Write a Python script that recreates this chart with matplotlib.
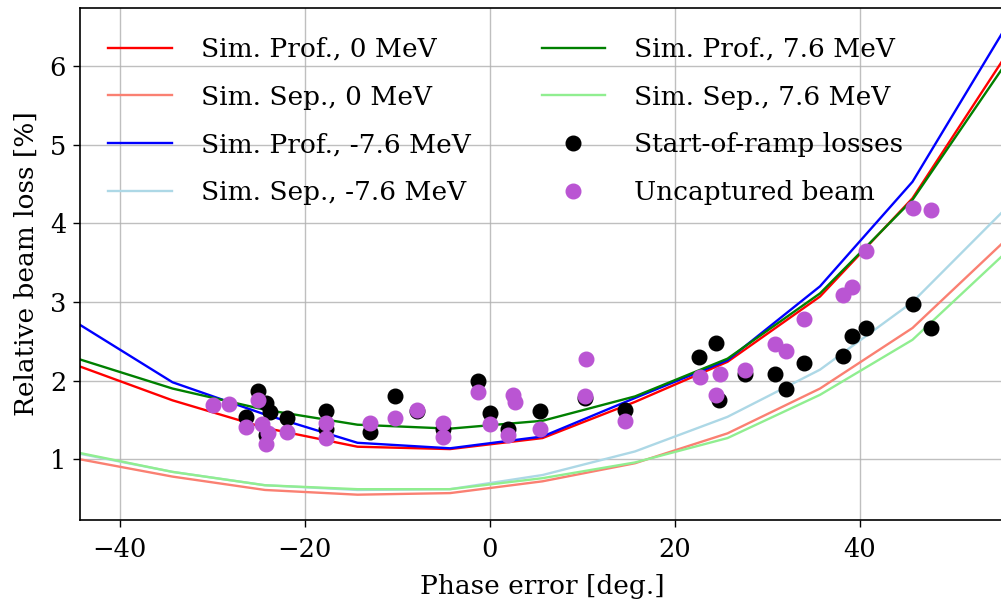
import matplotlib
matplotlib.use("Agg")
import matplotlib.pyplot as plt

plt.rcParams['font.family'] = ['DejaVu Serif']
plt.rcParams['mathtext.fontset'] = 'dejavuserif'

# Simulation phase points [deg.]
phase_sim = [-44.3, -34.3, -24.3, -14.3, -4.3, 5.7, 15.7, 25.7, 35.7, 45.7, 55.7]

prof_0 = [2.18, 1.75, 1.40, 1.16, 1.13, 1.27, 1.73, 2.24, 3.07, 4.32, 6.12]
sep_0 = [1.00, 0.78, 0.61, 0.55, 0.57, 0.72, 0.95, 1.33, 1.90, 2.67, 3.78]
prof_m76 = [2.71, 1.98, 1.57, 1.21, 1.14, 1.29, 1.78, 2.26, 3.20, 4.53, 6.48]
sep_m76 = [1.07, 0.84, 0.67, 0.61, 0.62, 0.80, 1.10, 1.54, 2.14, 3.00, 4.18]
prof_p76 = [2.27, 1.90, 1.63, 1.44, 1.39, 1.49, 1.80, 2.28, 3.11, 4.30, 6.02]
sep_p76 = [1.08, 0.84, 0.67, 0.62, 0.62, 0.76, 0.96, 1.27, 1.82, 2.52, 3.62]

# Measurements
ramp_x = [-25.1, -24.2, -26.3, -24.2, -23.8, -21.9, -17.7, -17.7, -12.9, -10.2,
          -7.85, -5.1, -1.3, 0.0, 2.0, 5.4, 10.3, 14.6, 22.6, 24.5,
          24.8, 27.6, 30.8, 32.0, 34.0, 38.2, 39.2, 40.7, 45.7, 47.7]
ramp_y = [1.87, 1.71, 1.54, 1.31, 1.60, 1.52, 1.61, 1.38, 1.35, 1.80,
          1.61, 1.39, 1.99, 1.59, 1.39, 1.61, 1.78, 1.63, 2.30, 2.48,
          1.76, 2.09, 2.09, 1.90, 2.22, 2.31, 2.57, 2.67, 2.98, 2.67]

uncap_x = [-29.9, -28.2, -25.1, -26.3, -24.2, -24.0, -24.6, -21.9, -17.7, -17.7,
           -12.9, -10.2, -7.85, -5.1, -5.1, -1.3, 0.0, 2.0, 2.5, 2.7,
           5.4, 10.4, 10.3, 14.6, 22.7, 24.5, 24.9, 27.6, 30.8, 32.0,
           34.0, 38.2, 39.2, 40.7, 45.7, 47.7]
uncap_y = [1.69, 1.70, 1.75, 1.41, 1.20, 1.33, 1.45, 1.35, 1.46, 1.27,
           1.46, 1.52, 1.63, 1.46, 1.28, 1.86, 1.45, 1.31, 1.82, 1.73,
           1.39, 2.27, 1.80, 1.49, 2.05, 1.82, 2.09, 2.14, 2.47, 2.38,
           2.79, 3.09, 3.19, 3.65, 4.19, 4.17]

fig = plt.figure(figsize=(10.01, 6.03), dpi=100)
ax = fig.add_axes([80/1001, 83/603, 925/1001, 512/603])

lw = 1.7
ax.plot(phase_sim, prof_0, color='red', lw=lw, label='Sim. Prof., 0 MeV')
ax.plot(phase_sim, sep_0, color='salmon', lw=lw, label='Sim. Sep., 0 MeV')
ax.plot(phase_sim, prof_m76, color='blue', lw=lw, label='Sim. Prof., -7.6 MeV')
ax.plot(phase_sim, sep_m76, color='lightblue', lw=lw, label='Sim. Sep., -7.6 MeV')
ax.plot(phase_sim, prof_p76, color='green', lw=lw, label='Sim. Prof., 7.6 MeV')
ax.plot(phase_sim, sep_p76, color='lightgreen', lw=lw, label='Sim. Sep., 7.6 MeV')
ax.plot(ramp_x, ramp_y, 'o', color='black', ms=10.5, ls='none', label='Start-of-ramp losses')
ax.plot(uncap_x, uncap_y, 'o', color='mediumorchid', ms=10.5, ls='none', label='Uncaptured beam')

ax.set_xlim(-44.3, 55.7)
ax.set_ylim(0.228, 6.74)
ax.set_xticks([-40, -20, 0, 20, 40])
ax.set_yticks([1, 2, 3, 4, 5, 6])
ax.grid(True, color='#b0b0b0', lw=1.0, alpha=0.8)
ax.set_axisbelow(True)
ax.tick_params(labelsize=18.5, length=5, width=1)
ax.tick_params(axis='x', pad=7)
ax.tick_params(axis='y', pad=5)
ax.set_xlabel('Phase error [deg.]', fontsize=19, labelpad=9)
ax.set_ylabel('Relative beam loss [%]', fontsize=19, labelpad=8)
for s in ax.spines.values():
    s.set_linewidth(1.2)

ax.legend(ncol=2, loc='upper left', bbox_to_anchor=(0.005, 0.99), frameon=False,
          fontsize=19, handlelength=2.4, handletextpad=1.1, columnspacing=2.7,
          labelspacing=0.86, borderpad=0.4)

fig.savefig('out.png', dpi=100)
